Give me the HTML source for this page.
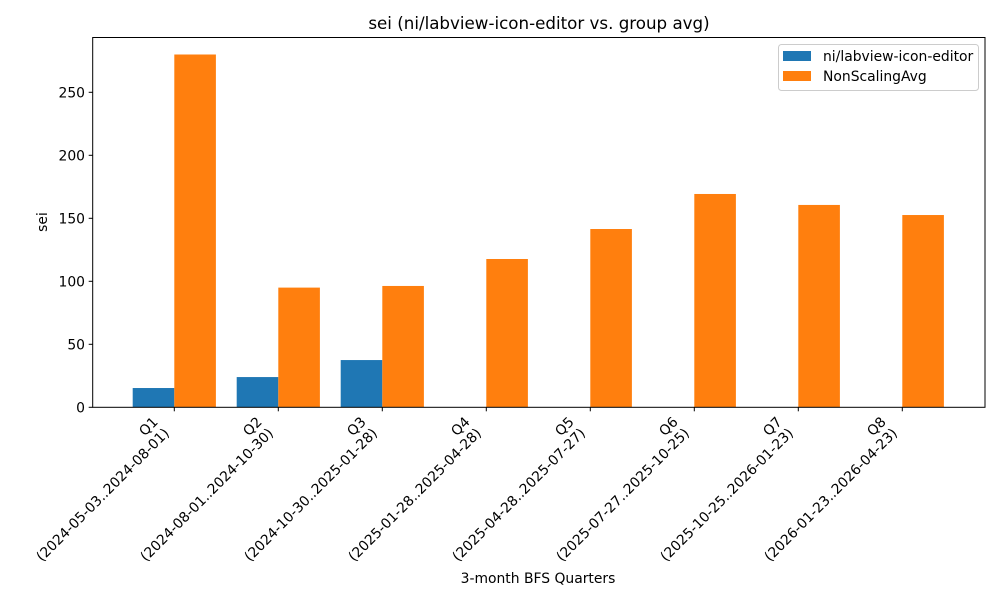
<!DOCTYPE html>
<html><head><meta charset="utf-8"><style>
html,body{margin:0;padding:0;background:#fff}
svg{display:block;font-family:"DejaVu Sans","Liberation Sans",sans-serif}
</style></head><body>
<svg id="chart" width="1000" height="600" viewBox="0 0 1000 600">
<text x="539" y="29" text-anchor="middle" font-size="16.7">sei (ni/labview-icon-editor vs. group avg)</text>
<g id="plot"></g>
<rect x="92.7" y="37.5" width="892.3" height="369.8" fill="none" stroke="#000" stroke-width="1"/>
<text x="538" y="583" text-anchor="middle" font-size="13.9">3-month BFS Quarters</text>
<text transform="translate(47,222) rotate(-90)" text-anchor="middle" font-size="13.9">sei</text>
<g>
<rect x="778.5" y="44.5" width="200" height="46" rx="3" fill="#fff" fill-opacity="0.8" stroke="#ccc"/>
<g>
<rect x="783" y="51" width="28" height="10" fill="#1f77b4"/>
<text x="823" y="61" font-size="13.9">ni/labview-icon-editor</text></g>
<g>
<rect x="783" y="71" width="28" height="10" fill="#ff7f0e"/>
<text x="823" y="81" font-size="13.9">NonScalingAvg</text></g>
</g>
</svg>
<script>
const categories = ["Q1","Q2","Q3","Q4","Q5","Q6","Q7","Q8"];
const ranges = ["(2024-05-03..2024-08-01)","(2024-08-01..2024-10-30)","(2024-10-30..2025-01-28)","(2025-01-28..2025-04-28)","(2025-04-28..2025-07-27)","(2025-07-27..2025-10-25)","(2025-10-25..2026-01-23)","(2026-01-23..2026-04-23)"];
const repoValues = [15.3, 24, 37.5, 0, 0, 0, 0, 0];
const avgValues = [280, 95, 96.3, 117.7, 141.5, 169.3, 160.6, 152.6];
const yTicks = [0, 50, 100, 150, 200, 250];

const NS = "http://www.w3.org/2000/svg";
const plot = document.getElementById("plot");
const x0 = 174.3, step = 104, barW = 0.4 * step;
const y0 = 407.3, yScale = 1.26;
function xPos(i){ return x0 + step * i; }
function yPos(v){ return y0 - v * yScale; }
function mk(tag, attrs){ const e = document.createElementNS(NS, tag); for (const k in attrs) e.setAttribute(k, attrs[k]); return e; }

yTicks.forEach(t => {
  const y = yPos(t);
  const tk = mk("line", {x1: 88.7, x2: 92.7, y1: y, y2: y, stroke: "#000"});
  
  
  plot.appendChild(tk);
  const lb = mk("text", {x: 85, y: y + 5, "text-anchor": "end", "font-size": 13.9});
  lb.textContent = t;
  
  
  plot.appendChild(lb);
});

categories.forEach((c, i) => {
  const cx = xPos(i);
  const b1 = mk("rect", {x: cx - barW, y: yPos(repoValues[i]), width: barW, height: repoValues[i] * yScale, fill: "#1f77b4"});
  
  
  plot.appendChild(b1);
  const b2 = mk("rect", {x: cx, y: yPos(avgValues[i]), width: barW, height: avgValues[i] * yScale, fill: "#ff7f0e"});
  
  
  plot.appendChild(b2);
  const tk = mk("line", {x1: cx, x2: cx, y1: y0, y2: y0 + 4, stroke: "#000"});
  
  
  plot.appendChild(tk);
  const g = mk("g", {transform: "translate(" + (cx - 24) + "," + (y0 + 7) + ") rotate(-45)"});
  
  
  const l1 = mk("text", {x: 0, y: 12, "text-anchor": "end", "font-size": 13.9});
  l1.textContent = c;
  
  
  g.appendChild(l1);
  const l2 = mk("text", {x: 0, y: 28, "text-anchor": "end", "font-size": 13.9});
  l2.textContent = ranges[i];
  
  
  g.appendChild(l2);
  plot.appendChild(g);
});
</script>
</body></html>
